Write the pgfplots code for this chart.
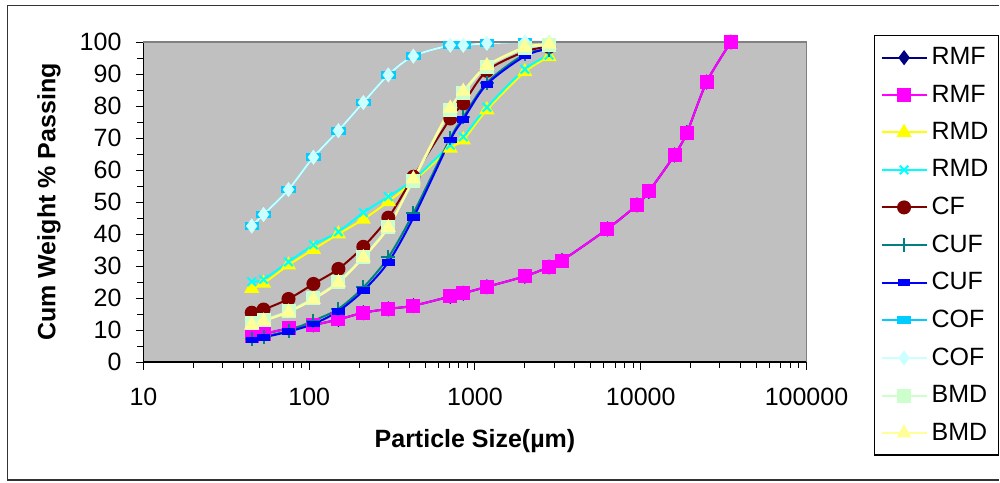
\documentclass[border=0pt]{standalone}
\usepackage{fontspec}
\setmainfont{Liberation Sans}
\usepackage{pgfplots}
\pgfplotsset{compat=1.18}
\definecolor{plotgray}{RGB}{192,192,192}
\definecolor{rmfnavy}{RGB}{0,0,128}
\definecolor{rmfmag}{RGB}{255,0,255}
\definecolor{rmdyel}{RGB}{255,255,0}
\definecolor{rmdcyan}{RGB}{0,255,255}
\definecolor{cfred}{RGB}{128,0,0}
\definecolor{cufteal}{RGB}{0,128,128}
\definecolor{cufblue}{RGB}{0,0,255}
\definecolor{cofblue}{RGB}{0,204,255}
\definecolor{coflight}{RGB}{204,255,255}
\definecolor{bmdgreen}{RGB}{204,255,204}
\definecolor{bmdyel}{RGB}{255,255,153}

\begin{document}
\begin{tikzpicture}
\begin{axis}[
  scale only axis,
  width=331.5pt, height=160pt,
  xmode=log, xmin=10, xmax=100000,
  ymin=0, ymax=100,
  xtick={10,100,1000,10000,100000},
  xticklabels={10,100,1000,10000,100000},
  ytick={0,10,...,100},
  minor y tick num=1,
  axis x line*=bottom, axis y line*=left,
  axis line style={black,-,line width=0.7pt},
  tick align=outside,
  major tick length=4pt, minor tick length=3pt,
  tick style={black,line width=0.5pt},
  axis background/.style={fill=plotgray},
  /pgf/number format/assume math mode=true,
  tick label style={font=\fontsize{12.5}{15}\selectfont},
  xticklabel style={yshift=-5.5pt},
  yticklabel style={xshift=-3.5pt},
  xlabel={\textbf{Particle Size(µm)}},
  ylabel={\textbf{Cum Weight \% Passing}},
  every axis x label/.style={at={(axis description cs:0.5,-0.247)},anchor=center,
    font=\fontsize{12.5}{15}\selectfont},
  every axis y label/.style={at={(axis description cs:-0.1425,0.5)},rotate=90,anchor=center,
    font=\fontsize{12.5}{15}\selectfont},
  clip=false,
  every axis plot/.append style={line width=1pt, smooth, mark options={solid}},
  legend style={at={(axis description cs:1.1018,1.022)}, anchor=north west,
    draw=black, line width=0.6pt, fill=white,
    font=\fontsize{12.5}{15}\selectfont, row sep=4.6pt, inner xsep=3pt, inner ysep=4pt},
  legend cell align=left,
  legend image code/.code={\draw[mark repeat=2,mark phase=2,#1]
    plot coordinates {(0pt,0pt) (11.25pt,0pt) (22.5pt,0pt)};},
]
% RMF
\addplot[color=rmfnavy, mark=diamond*, mark size=3pt] coordinates {
(45,8.1)(53,8.75)(75,10.5)(106,11.6)(150,13.3)(212,15.4)(300,16.6)(425,17.6)
(710,20.5)(850,21.5)(1180,23.5)(2000,26.8)(2800,29.7)(3350,31.7)(6300,41.6)
(9500,49.1)(11200,53.3)(16000,64.7)(19000,71.7)(25000,87.5)(35000,100)};
\addplot[color=rmfmag, mark=square*, mark size=3pt] coordinates {
(45,8.1)(53,8.75)(75,10.5)(106,11.6)(150,13.3)(212,15.4)(300,16.6)(425,17.6)
(710,20.5)(850,21.5)(1180,23.5)(2000,26.8)(2800,29.7)(3350,31.7)(6300,41.6)
(9500,49.1)(11200,53.3)(16000,64.7)(19000,71.7)(25000,87.5)(35000,100)};
% RMD
\addplot[color=rmdyel, mark=triangle*, mark size=3.4pt] coordinates {
(45,23.0)(53,24.6)(75,30.3)(106,35.2)(150,40.0)(212,44.6)(300,50.1)(425,56.5)
(710,66.8)(850,69.4)(1180,78.8)(2000,90.7)(2800,95.4)};
\addplot[color=rmdcyan, mark=x, mark size=3pt] coordinates {
(45,25.1)(53,25.8)(75,31.3)(106,36.6)(150,40.7)(212,46.7)(300,51.7)(425,57.0)
(710,67.8)(850,70.4)(1180,79.6)(2000,91.5)(2800,95.9)};
% CF
\addplot[color=cfred, mark=*, mark size=3pt] coordinates {
(45,15.4)(53,16.4)(75,19.7)(106,24.4)(150,29.1)(212,36.0)(300,45.1)(425,57.9)
(710,76.1)(850,80.8)(1180,91.0)(2000,97.0)(2800,98.5)};
% CUF
\addplot[color=cufteal, mark=+, mark size=3.5pt] coordinates {
(45,7.2)(53,7.9)(75,9.8)(106,12.9)(150,16.6)(212,23.3)(300,32.7)(425,46.5)
(710,69.9)(850,76.5)(1180,87.3)(2000,96.2)(2800,97.5)};
\addplot[color=cufblue, mark=square*, mark size=2pt,
  mark options={xscale=1.3,yscale=0.6}] coordinates {
(45,6.9)(53,7.7)(75,9.5)(106,11.9)(150,15.9)(212,22.3)(300,31.2)(425,45.1)
(710,69.4)(850,75.8)(1180,86.8)(2000,95.6)(2800,98.0)};
% COF
\addplot[color=cofblue, mark=square*, mark size=2.4pt,
  mark options={xscale=1.3,yscale=0.6}] coordinates {
(45,42.5)(53,46.1)(75,53.9)(106,64.0)(150,72.3)(212,81.1)(300,89.7)(425,95.6)
(710,99.0)(850,99.0)(1180,99.6)(2000,100)(2800,100)};
\addplot[color=coflight, mark=diamond*, mark size=3pt] coordinates {
(45,42.5)(53,46.1)(75,53.9)(106,64.0)(150,72.3)(212,81.1)(300,89.7)(425,95.6)
(710,99.0)(850,99.0)(1180,99.6)(2000,100)(2800,100)};
% BMD
\addplot[color=bmdgreen, mark=square*, mark size=3pt] coordinates {
(45,12.1)(53,13.1)(75,15.9)(106,19.9)(150,25.1)(212,32.9)(300,42.3)(425,56.7)
(710,78.8)(850,84.0)(1180,92.3)(2000,98.0)(2800,99.0)};
\addplot[color=bmdyel, mark=triangle*, mark size=3.4pt] coordinates {
(45,11.6)(53,12.8)(75,15.6)(106,19.6)(150,24.8)(212,32.6)(300,42.0)(425,57.2)
(710,79.3)(850,84.6)(1180,92.6)(2000,98.4)(2800,99.3)};
\legend{RMF,RMF,RMD,RMD,CF,CUF,CUF,COF,COF,BMD,BMD}
\draw[gray,line width=0.7pt] (rel axis cs:0,1) -- (rel axis cs:1,1) -- (rel axis cs:1,0);
\coordinate (ftl) at (rel axis cs:-0.2051,1.1134);
\coordinate (ftr) at (rel axis cs:1.2911,1.1134);
\coordinate (fbl) at (rel axis cs:-0.2051,-0.36875);
\coordinate (fbr) at (rel axis cs:1.2911,-0.36875);
\coordinate (bbl) at (rel axis cs:-0.2164,-0.375);
\coordinate (btr) at (rel axis cs:1.2919,1.1313);
\end{axis}
\draw[black!80,line width=0.6pt] (ftr) -- (ftl) -- (fbl) -- (fbr);
\pgfresetboundingbox
\useasboundingbox (bbl) rectangle (btr);
\end{tikzpicture}
\end{document}
